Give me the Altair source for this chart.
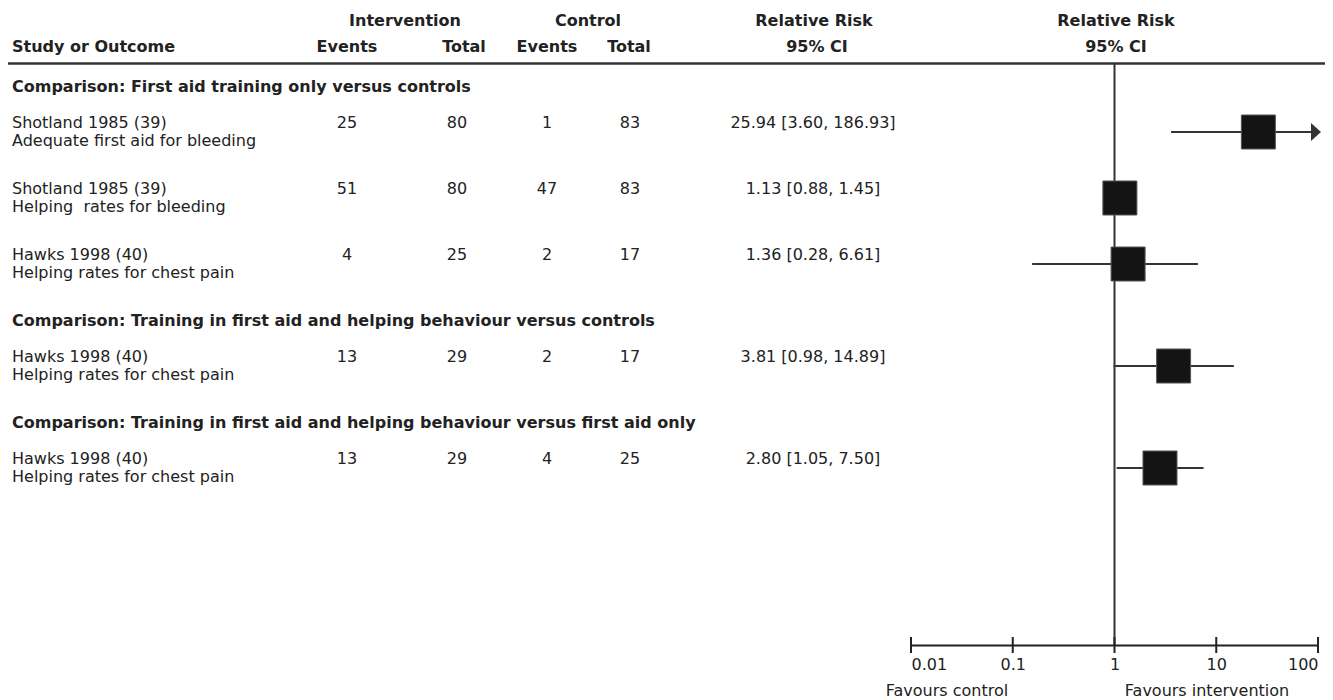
import altair as alt
import pandas as pd

# ---------------- data ----------------
comparisons = [
    "Comparison: First aid training only versus controls",
    "Comparison: Training in first aid and helping behaviour versus controls",
    "Comparison: Training in first aid and helping behaviour versus first aid only",
]
study_names = ["Shotland 1985 (39)", "Shotland 1985 (39)", "Hawks 1998 (40)",
               "Hawks 1998 (40)", "Hawks 1998 (40)"]
outcomes = ["Adequate first aid for bleeding", "Helping\u00a0 rates for bleeding",
            "Helping rates for chest pain", "Helping rates for chest pain",
            "Helping rates for chest pain"]
study_group = [0, 0, 0, 1, 2]
int_events = [25, 51, 4, 13, 13]
int_total = [80, 80, 25, 29, 29]
ctl_events = [1, 47, 2, 2, 4]
ctl_total = [83, 83, 17, 17, 25]
rr = [25.94, 1.13, 1.36, 3.81, 2.80]
ci_lo = [3.60, 0.88, 0.28, 0.98, 1.05]
ci_hi = [186.93, 1.45, 6.61, 14.89, 7.50]
# interval ends as drawn in the figure's plot panel
ci_lo_drawn = [3.60, 0.88, 0.155, 0.98, 1.05]
ci_hi_drawn = [186.93, 1.45, 6.61, 14.89, 7.50]
axis_ticks = [0.01, 0.1, 1, 10, 100]

# ---------------- layout ----------------
FONT = "DejaVu Sans"
FS = 16
TXT = "#222222"
LINE = "#333333"
W, H = 1317, 637
FIRST_Y = 79
HEAD_TO_STUDY = 45
STUDY_TO_STUDY = 66
STUDY_TO_HEAD = 57

heads, studies = [], []
y = FIRST_Y
prev = None
for i, g in enumerate(study_group):
    if g != prev:
        if prev is not None:
            y += STUDY_TO_HEAD
        heads.append({"label": comparisons[g], "y": y})
        y += HEAD_TO_STUDY
        prev = g
    else:
        y += STUDY_TO_STUDY
    studies.append({
        "name": study_names[i], "outcome": outcomes[i],
        "ie": str(int_events[i]), "it": str(int_total[i]),
        "ce": str(ctl_events[i]), "ct": str(ctl_total[i]),
        "rrtxt": f"{rr[i]:.2f} [{ci_lo[i]:.2f}, {ci_hi[i]:.2f}]",
        "rr": rr[i], "lo": ci_lo_drawn[i], "hi": ci_hi_drawn[i], "y": y,
    })
hdf = pd.DataFrame(heads)
sdf = pd.DataFrame(studies)

yscale = alt.Scale(domain=[0, H], reverse=True)
xscale = alt.Scale(type="log", domain=[0.01, 100], range=[903, 1310])
Y = alt.Y("y:Q", scale=yscale, axis=None)

base_s = alt.Chart(sdf)


def col_text(field, x, dy, align="center", bold=False):
    return base_s.mark_text(font=FONT, fontSize=FS, color=TXT, align=align,
                            dy=dy, fontWeight="bold" if bold else "normal").encode(
        x=alt.value(x), y=Y, text=f"{field}:N")


def label(t, x, yv, align="center", bold=True):
    return alt.Chart(pd.DataFrame({"t": [t]})).mark_text(
        font=FONT, fontSize=FS, color=TXT, align=align, baseline="middle",
        fontWeight="bold" if bold else "normal").encode(
        x=alt.value(x), y=alt.value(yv), text="t:N")


layers = []
# column headers
HR1, HR2 = 13, 39
layers += [
    label("Intervention", 397, HR1),
    label("Control", 580, HR1),
    label("Relative Risk", 806, HR1),
    label("Relative Risk", 1108, HR1),
    label("Study or Outcome", 4, HR2, align="left"),
    label("Events", 339, HR2),
    label("Total", 456, HR2),
    label("Events", 539, HR2),
    label("Total", 621, HR2),
    label("95% CI", 809, HR2),
    label("95% CI", 1108, HR2),
]
# header rule
layers.append(alt.Chart(pd.DataFrame({"a": [0]})).mark_rule(
    color=LINE, strokeWidth=2.5).encode(
    x=alt.value(0), x2=alt.value(W), y=alt.value(55.5)))

# comparison headings
layers.append(alt.Chart(hdf).mark_text(
    font=FONT, fontSize=FS, color=TXT, align="left", fontWeight="bold").encode(
    x=alt.value(4), y=Y, text="label:N"))

# study table text
layers += [
    col_text("name", 4, -9, align="left"),
    col_text("outcome", 4, 9, align="left"),
    col_text("ie", 339, -9),
    col_text("it", 449, -9),
    col_text("ce", 539, -9),
    col_text("ct", 622, -9),
    col_text("rrtxt", 805, -9),
]

# line of no effect
layers.append(alt.Chart(pd.DataFrame({"a": [0]})).mark_rule(
    color=LINE, strokeWidth=2).encode(
    x=alt.X(datum=1, scale=xscale), y=alt.value(55.5), y2=alt.value(H)))

# confidence intervals
layers.append(base_s.transform_calculate(
    hic="min(datum.hi, 100)").mark_rule(color=LINE, strokeWidth=2).encode(
    x=alt.X("lo:Q", scale=xscale), x2="hic:Q", y=Y))

# arrows for truncated intervals
layers.append(base_s.transform_filter("datum.hi > 100").transform_calculate(
    edge="100").mark_point(
    shape="M-1.4,-1.8L0.6,0L-1.4,1.8Z", size=100, filled=True, opacity=1,
    color=LINE).encode(x=alt.X("edge:Q", scale=xscale), y=Y))

# point estimates
layers.append(base_s.mark_point(
    shape="square", size=1156, filled=True, opacity=1, fill="#141414",
    stroke="#555555", strokeWidth=1).encode(
    x=alt.X("rr:Q", scale=xscale, axis=alt.Axis(
        values=axis_ticks, format="~g", ticks=False, tickSize=0, grid=False,
        domainColor="#222222", domainWidth=2, labelFont=FONT, labelFontSize=FS,
        labelColor=TXT, labelPadding=11, title=None, labelFlush=True,
        labelOverlap=False)),
    y=Y))

# axis tick marks (crossing the axis line)
layers.append(alt.Chart(pd.DataFrame({"v": axis_ticks})).mark_rule(
    color="#222222", strokeWidth=2).encode(
    x=alt.X("v:Q", scale=xscale), y=alt.value(H - 8), y2=alt.value(H + 8)))

# favours labels
layers += [
    label("Favours control", 939, 683, bold=False),
    label("Favours intervention", 1199, 683, bold=False),
]

chart = alt.layer(*layers).properties(
    width=W, height=H,
    autosize=alt.AutoSizeParams(type="none"),
    padding={"left": 0, "top": 0, "right": 0, "bottom": 55},
    background="white",
).configure_view(strokeWidth=0)

chart.save("out.html", embed_options={"renderer": "svg", "actions": False})
